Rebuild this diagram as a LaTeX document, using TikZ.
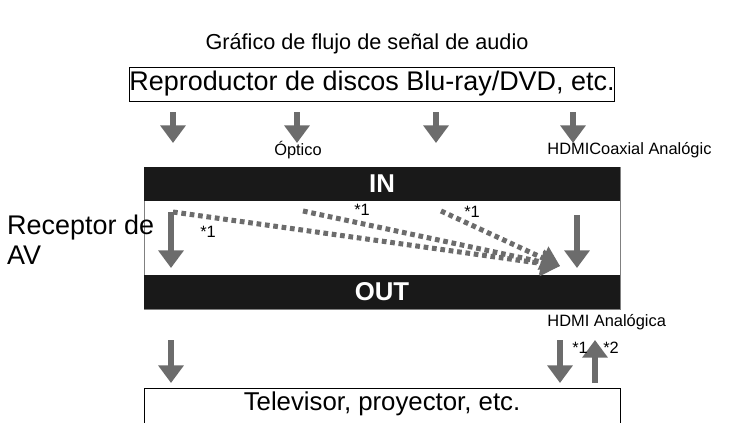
\documentclass[tikz,border=0pt]{standalone}
\usepackage{fontspec}
\setmainfont{Liberation Sans}
\usetikzlibrary{arrows.meta}
\begin{document}
\begin{tikzpicture}[x=0.03cm,y=-0.03cm,
  flow/.style={draw=gray!85!black, line width=4.6pt, -{Triangle[width=21pt,length=15pt]}},
  dotflow/.style={draw=gray!85!black, line width=4.3pt, dash pattern=on 4pt off 3.2pt, -{Triangle[width=21pt,length=16pt]}},
  bar/.style={fill=black!90, text=white, font=\fontsize{22}{24}\selectfont\bfseries},
  small/.style={font=\fontsize{14}{16}\selectfont, inner sep=1pt}]
\useasboundingbox (0,0) rectangle (729,423);
\node[font=\fontsize{18.5}{22}\selectfont] (title) at (367,44) {Gráfico de flujo de señal de audio};
\node[draw, minimum width=445*0.03cm, minimum height=34*0.03cm, font=\fontsize{23}{26}\selectfont, inner sep=0pt] (src) at (372,84) {Reproductor de discos Blu-ray/DVD, etc.};
%inputs
\foreach \x/\n in {173/a,297/b,436/c,573/d}{
  \coordinate (in\n) at (\x,112); \coordinate (to\n) at (\x,143);
  \draw[flow] (in\n) -- (to\n);
}
\node[small] (opt) at (298,150) {Óptico};
\node[small, anchor=west] (hdmi) at (546,150) {HDMICoaxial Analógic};
%receiver
\draw[fill=white, draw=gray] (144,167) rectangle (620,309);
\fill[black!90] (144,167) rectangle (620,201);
\fill[black!90] (144,275) rectangle (620,309);
\node[bar] (in) at (382,184) {IN};
\node[bar] (out) at (382,292) {OUT};
\node[anchor=west, align=left, font=\fontsize{23}{26}\selectfont, inner sep=0pt] (rx) at (7,240) {Receptor de\\AV};
\coordinate (p1) at (173,212); \coordinate (p2) at (303,211); \coordinate (p3) at (441,211);
\coordinate (q) at (560,266);
\draw[dotflow] (p1) -- (q);
\draw[dotflow] (p2) -- (q);
\draw[dotflow] (p3) -- (q);
\draw[flow] (171,212) -- (171,268);
\draw[flow] (577,215) -- (577,268);
\node[small] at (208,232) {*1};
\node[small] at (362,210) {*1};
\node[small] at (472,212) {*1};
%outputs
\node[small, anchor=west] (hout) at (546,322) {HDMI Analógica};
\draw[flow] (171,340) -- (171,383);
\draw[flow] (560,340) -- (560,383);
\draw[flow] (595,383) -- (595,340);
\node[small] at (580,348) {*1};
\node[small] at (611,348) {*2};
\draw (144,440) |- (620,388) -- (620,440);
\node[font=\fontsize{22}{24}\selectfont] (tv) at (382,404) {Televisor, proyector, etc.};
\end{tikzpicture}
\end{document}
